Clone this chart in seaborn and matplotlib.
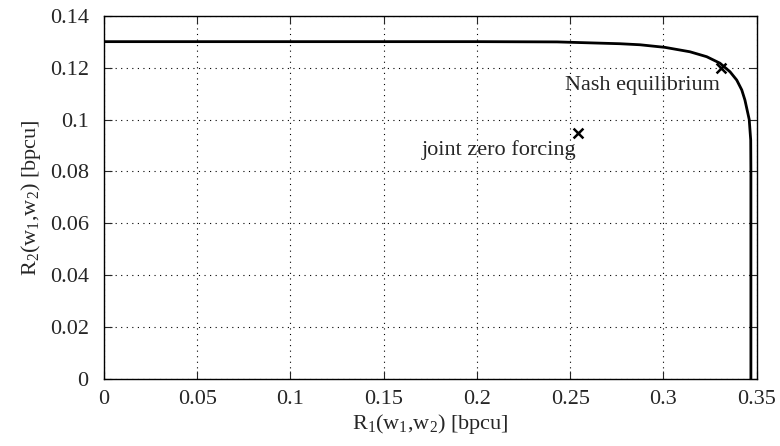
"""Pareto boundary of the two-user rate region with Nash and ZF operating points."""

import matplotlib

matplotlib.use("Agg")
import matplotlib.pyplot as plt
import numpy as np
import pandas as pd
import seaborn as sns

# Pareto boundary
r1_boundary = [0.0, 0.10, 0.20, 0.243, 0.2767, 0.2874, 0.3008, 0.3142, 0.3232,
               0.3303, 0.3357, 0.3393, 0.3420, 0.3437, 0.3460, 0.3468, 0.3469,
               0.3469]
r2_boundary = [0.1300, 0.1300, 0.1300, 0.1299, 0.1292, 0.1288, 0.1278, 0.1261,
               0.1242, 0.1217, 0.1184, 0.1152, 0.1114, 0.1075, 0.1000, 0.0921,
               0.0800, 0.0]

point_names = ["Nash equilibrium", "joint zero forcing"]
point_r1 = [0.3308, 0.2543]
point_r2 = [0.1197, 0.0947]

sns.set_style("ticks")
plt.rcParams["font.family"] = ["Liberation Serif", "DejaVu Serif"]
plt.rcParams["mathtext.fontset"] = "custom"
plt.rcParams["mathtext.rm"] = "Liberation Serif"
plt.rcParams["mathtext.it"] = "Liberation Serif:italic"

boundary = pd.DataFrame({"r1": r1_boundary, "r2": r2_boundary})
points = pd.DataFrame({"name": point_names, "r1": point_r1, "r2": point_r2})

fig = plt.figure(figsize=(7.8, 4.46), dpi=100)
ax = fig.add_axes([0.1333, 0.1502, 0.8368, 0.8146])

sns.lineplot(data=boundary, x="r1", y="r2", sort=False, estimator=None,
             color="black", linewidth=2.0, ax=ax)
sns.scatterplot(data=points, x="r1", y="r2", marker="x", color="black",
                s=50, linewidth=1.8, ax=ax, zorder=5)

offsets = {"Nash equilibrium": (-0.0005, -0.0083), "joint zero forcing": (-0.001, -0.0084)}
for name, x, y in zip(point_names, point_r1, point_r2):
    dx, dy = offsets[name]
    ax.text(x + dx, y + dy, name, ha="right", va="baseline", fontsize=16)

ax.set_xlim(0, 0.35)
ax.set_ylim(0, 0.14)
ax.set_xticks(np.arange(0, 0.351, 0.05))
ax.set_yticks(np.arange(0, 0.141, 0.02))
ax.set_xticklabels(["0", "0.05", "0.1", "0.15", "0.2", "0.25", "0.3", "0.35"])
ax.set_yticklabels(["0", "0.02", "0.04", "0.06", "0.08", "0.1", "0.12", "0.14"])
ax.grid(True, linestyle=(0, (1, 4)), color="black", linewidth=0.8)
ax.tick_params(direction="in", top=True, right=True, labelsize=16, length=6)
ax.tick_params(axis="x", pad=8)
ax.tick_params(axis="y", pad=11)
for spine in ax.spines.values():
    spine.set_visible(True)
    spine.set_linewidth(1.0)
    spine.set_color("black")

ax.set_xlabel(r"R$_1$(w$_1$,w$_2$) [bpcu]", fontsize=16, labelpad=2)
ax.set_ylabel(r"R$_2$(w$_1$,w$_2$) [bpcu]", fontsize=16, labelpad=5)

fig.savefig("out.png", dpi=100)
